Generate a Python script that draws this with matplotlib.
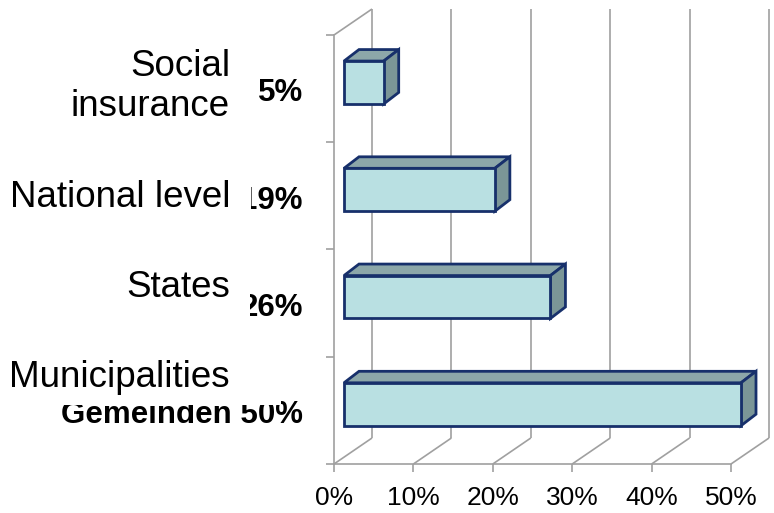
import matplotlib
matplotlib.use("Agg")
import matplotlib.pyplot as plt
from matplotlib.patches import Polygon

# ---- data ----
categories = ["Municipalities", "States", "National level", "Social\ninsurance"]
values = [50, 26, 19, 5]
value_labels = ["Gemeinden 50%", "26%", "19%", "5%"]
xticks = [0, 10, 20, 30, 40, 50]
xtick_labels = ["0%", "10%", "20%", "30%", "40%", "50%"]

# ---- style / layout ----
W, H = 774, 513
GRAY = "#a0a0a0"
EDGE = "#17306b"
FRONT = "#b9e0e2"
TOP = "#8ca7a9"
SIDE = "#7b9697"

fig = plt.figure(figsize=(W / 100, H / 100), dpi=100)
ax = fig.add_axes([334 / W, (H - 464) / H, 397 / W, 429 / H])
ax.set_xlim(0, 50)
ax.set_ylim(0, 4)

px_x = 397 / 50.0     # pixels per x unit
px_y = 429 / 4.0      # pixels per y unit
wall_dx, wall_dy = 38 / px_x, 26 / px_y
shift_x, shift_y = 10 / px_x, 0.057
bar_dx, bar_dy = 15 / px_x, 11.5 / px_y
bar_h = 0.40

for s in ["top", "right"]:
    ax.spines[s].set_visible(False)
for s in ["left", "bottom"]:
    ax.spines[s].set_color(GRAY)
    ax.spines[s].set_linewidth(1.2)
ax.set_xticks(xticks)
ax.set_xticklabels(xtick_labels, fontsize=19, family="Liberation Sans")
ax.set_yticks(range(5))
ax.set_yticklabels([])
ax.tick_params(axis="both", direction="out", length=6, width=1.2, color=GRAY)
ax.tick_params(axis="x", pad=10)
ax.set_facecolor("none")

# 3D frame: left wall, floor diagonals, back gridlines
lk = dict(color=GRAY, lw=1.2, clip_on=False, zorder=1, solid_capstyle="butt")
ax.plot([0, wall_dx], [4, 4 + wall_dy], **lk)
for xv in xticks:
    ax.plot([xv, xv + wall_dx], [0, wall_dy], **lk)
    ax.plot([xv + wall_dx, xv + wall_dx], [wall_dy, 4 + wall_dy], **lk)

# bars
for i, v in enumerate(values):
    x0 = shift_x
    x1 = shift_x + v
    yc = i + 0.5 + shift_y
    y0, y1 = yc - bar_h / 2, yc + bar_h / 2
    pk = dict(edgecolor=EDGE, linewidth=2.0, joinstyle="miter", clip_on=False, zorder=3)
    ax.add_patch(Polygon([(x0, y1), (x1, y1), (x1 + bar_dx, y1 + bar_dy), (x0 + bar_dx, y1 + bar_dy)],
                         closed=True, facecolor=TOP, **pk))
    ax.add_patch(Polygon([(x1, y0), (x1 + bar_dx, y0 + bar_dy), (x1 + bar_dx, y1 + bar_dy), (x1, y1)],
                         closed=True, facecolor=SIDE, **pk))
    ax.add_patch(Polygon([(x0, y0), (x1, y0), (x1, y1), (x0, y1)],
                         closed=True, facecolor=FRONT, **pk))

# value labels (bold), drawn underneath the category labels
val_x = (303 - 334) / px_x
for i, lab in enumerate(value_labels):
    ax.text(val_x, i + 0.38, lab, ha="right", va="baseline", fontsize=22.5,
            fontweight="bold", family="Liberation Sans", clip_on=False, zorder=4)

# category labels (with white boxes overlapping the value labels)
cat_x = (230 - 334) / px_x
cat_base = [0.718, 1.556, 2.396, 3.0]
cat_pad = [None, 14.5, 15, None]
for i, lab in enumerate(categories):
    kw = dict(ha="right", fontsize=26.5, family="Liberation Sans", clip_on=False, zorder=5)
    if i == 0:
        ax.text(cat_x + 41 / px_x, cat_base[i], lab + "    ", va="baseline",
                bbox=dict(boxstyle="square,pad=0.28", facecolor="white", edgecolor="none"), **kw)
    elif i == 3:
        ax.text(cat_x, 3.52, lab, va="center", linespacing=1.22, **kw)
    else:
        ax.text(cat_x, cat_base[i], lab, va="baseline",
                bbox=dict(boxstyle="square,pad=%.2f" % (cat_pad[i] / 26.5),
                          facecolor="white", edgecolor="none"),
                **kw)

fig.savefig("out.png", dpi=100, facecolor="white")
